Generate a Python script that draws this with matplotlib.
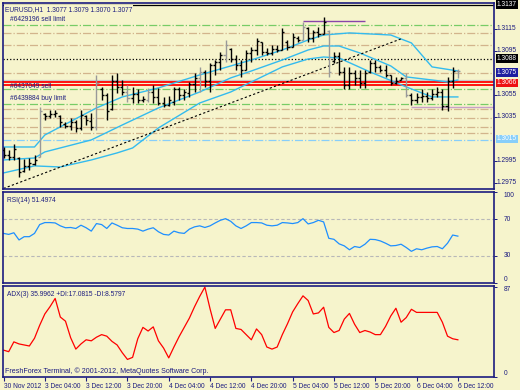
import numpy as np
import matplotlib.pyplot as plt
from matplotlib.transforms import blended_transform_factory

plt.rcParams['font.family'] = ['Liberation Sans', 'DejaVu Sans']

# EURUSD H1 bars, 30 Nov - 6 Dec 2012
o = [1.3005, 1.3000, 1.2999, 1.2998, 1.2986, 1.2990, 1.2992, 1.2999, 1.3038, 1.3036,
     1.3038, 1.3036, 1.3029, 1.3027, 1.3030, 1.3025, 1.3036, 1.3031, 1.3026, 1.3060,
     1.3055, 1.3042, 1.3068, 1.3062, 1.3058, 1.3052, 1.3056, 1.3050, 1.3050, 1.3058,
     1.3053, 1.3048, 1.3046, 1.3049, 1.3060, 1.3055, 1.3057, 1.3065, 1.3070, 1.3076,
     1.3068, 1.3082, 1.3085, 1.3091, 1.3097, 1.3088, 1.3082, 1.3078, 1.3093, 1.3096,
     1.3103, 1.3094, 1.3093, 1.3097, 1.3096, 1.3103, 1.3099, 1.3107, 1.3105, 1.3116,
     1.3107, 1.3112, 1.3110, 1.3113, 1.3086, 1.3090, 1.3076, 1.3064, 1.3075, 1.3070,
     1.3066, 1.3076, 1.3084, 1.3080, 1.3078, 1.3073, 1.3066, 1.3069, 1.3070, 1.3055,
     1.3050, 1.3053, 1.3054, 1.3052, 1.3056, 1.3058, 1.3045, 1.3068, 1.3077]
h = [1.3008, 1.3005, 1.3010, 1.2999, 1.2997, 1.2998, 1.3000, 1.3044, 1.3039, 1.3041,
     1.3041, 1.3037, 1.3030, 1.3034, 1.3032, 1.3041, 1.3037, 1.3039, 1.3073, 1.3062,
     1.3057, 1.3073, 1.3075, 1.3069, 1.3064, 1.3062, 1.3060, 1.3054, 1.3061, 1.3064,
     1.3061, 1.3053, 1.3054, 1.3062, 1.3062, 1.3060, 1.3067, 1.3075, 1.3080, 1.3078,
     1.3084, 1.3087, 1.3094, 1.3105, 1.3098, 1.3091, 1.3087, 1.3096, 1.3099, 1.3107,
     1.3103, 1.3098, 1.3100, 1.3100, 1.3116, 1.3105, 1.3111, 1.3109, 1.3121, 1.3117,
     1.3114, 1.3117, 1.3126, 1.3114, 1.3094, 1.3094, 1.3080, 1.3080, 1.3078, 1.3078,
     1.3078, 1.3087, 1.3087, 1.3082, 1.3082, 1.3073, 1.3071, 1.3071, 1.3075, 1.3057,
     1.3057, 1.3060, 1.3058, 1.3060, 1.3062, 1.3060, 1.3071, 1.3080, 1.3079]
l = [1.2998, 1.2996, 1.2996, 1.2980, 1.2985, 1.2987, 1.2991, 1.2999, 1.3032, 1.3034,
     1.3035, 1.3026, 1.3025, 1.3023, 1.3021, 1.3023, 1.3028, 1.3023, 1.3023, 1.3050,
     1.3032, 1.3041, 1.3057, 1.3055, 1.3049, 1.3048, 1.3048, 1.3049, 1.3049, 1.3048,
     1.3046, 1.3044, 1.3045, 1.3046, 1.3050, 1.3050, 1.3053, 1.3058, 1.3058, 1.3062,
     1.3058, 1.3073, 1.3078, 1.3085, 1.3085, 1.3078, 1.3071, 1.3078, 1.3085, 1.3091,
     1.3091, 1.3091, 1.3091, 1.3094, 1.3096, 1.3096, 1.3099, 1.3103, 1.3105, 1.3103,
     1.3103, 1.3108, 1.3110, 1.3071, 1.3084, 1.3073, 1.3060, 1.3060, 1.3064, 1.3061,
     1.3061, 1.3075, 1.3076, 1.3076, 1.3071, 1.3064, 1.3065, 1.3069, 1.3053, 1.3046,
     1.3048, 1.3049, 1.3049, 1.3050, 1.3053, 1.3041, 1.3040, 1.3061, 1.3070]
c = [1.3000, 1.2999, 1.3006, 1.2985, 1.2990, 1.2993, 1.2996, 1.3040, 1.3036, 1.3038,
     1.3039, 1.3030, 1.3027, 1.3030, 1.3025, 1.3037, 1.3032, 1.3026, 1.3066, 1.3055,
     1.3040, 1.3068, 1.3062, 1.3058, 1.3052, 1.3056, 1.3050, 1.3051, 1.3058, 1.3053,
     1.3048, 1.3046, 1.3050, 1.3060, 1.3055, 1.3058, 1.3065, 1.3070, 1.3076, 1.3068,
     1.3082, 1.3085, 1.3091, 1.3100, 1.3088, 1.3082, 1.3078, 1.3093, 1.3096, 1.3104,
     1.3094, 1.3093, 1.3097, 1.3096, 1.3112, 1.3099, 1.3108, 1.3105, 1.3117, 1.3107,
     1.3112, 1.3110, 1.3121, 1.3076, 1.3090, 1.3076, 1.3064, 1.3075, 1.3070, 1.3066,
     1.3075, 1.3084, 1.3080, 1.3078, 1.3073, 1.3066, 1.3068, 1.3070, 1.3055, 1.3050,
     1.3053, 1.3054, 1.3052, 1.3056, 1.3058, 1.3045, 1.3068, 1.3077, 1.3077]
gray_bars = [7, 18, 24, 28, 38, 43, 58, 63, 78, 88]

# band lines (read at a few bars)
up_x = [0, 6, 8, 18, 23, 30, 38, 48, 54, 59, 62, 67, 75, 79, 83, 88]
up_p = [1.30077, 1.30077, 1.30186, 1.30432, 1.30532, 1.30614, 1.30732, 1.30868, 1.30959, 1.3105,
        1.31095, 1.31114, 1.31095, 1.31023, 1.30805, 1.30768]
mid_x = [0, 6, 8, 17, 23, 30, 38, 44, 48, 54, 59, 62, 65, 69, 75, 78, 83, 86, 88]
mid_p = [1.29959, 1.29977, 1.30032, 1.30141, 1.30277, 1.30432, 1.30577, 1.30705, 1.30768, 1.30868,
         1.30959, 1.30995, 1.30995, 1.30932, 1.30814, 1.30714, 1.30686, 1.30668, 1.30686]
lo_x = [0, 6, 11, 17, 22, 25, 30, 38, 44, 48, 54, 59, 62, 65, 71, 78, 83, 88]
lo_p = [1.29841, 1.29905, 1.29895, 1.29959, 1.30023, 1.30068, 1.3025, 1.30477, 1.30577, 1.30668,
        1.30805, 1.30877, 1.30895, 1.30886, 1.30759, 1.30623, 1.30532, 1.30532]

trend_x = [0, 77]
trend_y = [1.2970, 1.3106]

levels = [1.3137, 1.3119, 1.3111, 1.3100, 1.3088, 1.3075, 1.3069, 1.30668, 1.30641,
          1.3060, 1.3047, 1.3042, 1.3034, 1.3026, 1.3020, 1.3014]
level_colors = ['black', '#77cc66', '#d2b48c', '#d2b48c', 'black', '#d2b48c', '#c8c8c8', 'red', 'red',
                '#77cc66', '#77cc66', '#d2b48c', '#d2b48c', '#d2b48c', '#d2b48c', '#87cefa']
level_styles = ['-', '-.', '-.', '-.', ':', '-.', '-', '-', '-',
                '-.', '-.', '-.', '-.', '-.', '-.', '-.']

rsi = [54.5, 53.4, 55.2, 47.3, 50.9, 50.9, 54.5, 64.2, 66.4, 66.4,
       66.0, 62.8, 60.7, 61.0, 59.9, 63.5, 60.7, 57.0, 65.3, 64.2,
       59.9, 66.0, 63.5, 60.7, 59.9, 59.9, 59.2, 57.0, 59.2, 60.7,
       56.3, 53.4, 52.7, 57.0, 55.2, 54.5, 59.2, 61.7, 62.8, 61.0,
       62.8, 66.0, 68.9, 70.7, 67.8, 62.8, 59.9, 62.8, 66.4, 66.4,
       66.0, 63.5, 62.8, 63.5, 66.4, 66.0, 65.3, 66.4, 70.7, 64.9,
       66.4, 68.9, 67.1, 49.1, 48.0, 43.0, 40.8, 36.5, 40.1, 39.0,
       42.6, 48.0, 47.7, 46.2, 43.7, 40.8, 41.2, 42.6, 39.0, 34.8,
       37.6, 36.5, 38.3, 39.7, 40.1, 37.6, 43.7, 52.7, 51.5]
adx = [26, 24.5, 34, 32, 31, 30, 37.5, 50, 61, 68,
       76, 58, 54, 38, 27, 32, 36, 35, 38.5, 41,
       39.5, 34.5, 31, 23.5, 17, 19, 37, 48, 44.5, 48.5,
       35, 28, 18.5, 29, 39, 48, 57, 68, 78, 87,
       66, 47, 56, 65, 65, 47, 46, 41, 36, 46.5,
       41, 29, 27, 29, 41, 51.5, 63, 71, 78.5, 74,
       61, 62, 67.5, 48, 43, 45, 56, 61.5, 51, 43,
       45, 43.5, 41, 41, 49, 59, 66.5, 53, 57.5, 65.5,
       62.5, 62.5, 62.5, 62.5, 62.5, 53, 39.5, 37, 36]

time_pos = [0, 8, 16, 24, 32, 40, 48, 56, 64, 72, 80, 88]
time_labels = ['30 Nov 2012', '3 Dec 04:00', '3 Dec 12:00', '3 Dec 20:00', '4 Dec 04:00', '4 Dec 12:00',
               '4 Dec 20:00', '5 Dec 04:00', '5 Dec 12:00', '5 Dec 20:00', '6 Dec 04:00', '6 Dec 12:00']

price_ticks = [1.3115, 1.3095, 1.3055, 1.3035, 1.2995, 1.2975]

bg = '#f6f4cc'
navy = '#1c1c80'
fs = 4.8

fig = plt.figure(figsize=(5.2, 3.9), dpi=100, facecolor=bg)
ax1 = fig.add_axes([0.0058, 0.5154, 0.9442, 0.4769], facecolor=bg)
ax2 = fig.add_axes([0.0058, 0.2744, 0.9442, 0.2333], facecolor=bg)
ax3 = fig.add_axes([0.0058, 0.0333, 0.9442, 0.2333], facecolor=bg)

for ax in (ax1, ax2, ax3):
    ax.set_xlim(-0.1, 95.0)
    for s in ax.spines.values():
        s.set_color(navy)
        s.set_linewidth(1.2)
    ax.set_xticks([])
    ax.yaxis.tick_right()
    ax.tick_params(axis='y', length=2, width=0.7, color=navy, labelright=False, labelleft=False)

# ---- main panel ----
ax1.set_ylim(1.29695, 1.31386)
ax1.set_yticks(price_ticks)
for p, col, ls in zip(levels, level_colors, level_styles):
    lw = 1.3 if col == 'red' else 0.9
    ax1.axhline(p, color=col, ls=ls, lw=lw, zorder=1)
ax1.hlines(1.3122, 58, 70, color='#8844aa', lw=1, zorder=1)
ax1.hlines(1.3044, 79, 95, color='#c8a0c8', lw=1, zorder=1)

x = np.arange(len(c))
cols = ['#999999' if i in gray_bars else 'black' for i in x]
ax1.vlines(x, l, h, colors=cols, lw=1.0, zorder=3)
ax1.hlines(o, x - 0.4, x, colors=cols, lw=1.0, zorder=3)
ax1.hlines(c, x, x + 0.4, colors=cols, lw=1.0, zorder=3)

for bx, bp in ((up_x, up_p), (mid_x, mid_p), (lo_x, lo_p)):
    ax1.plot(bx, bp, color='#33bbee', lw=1, zorder=2)
ax1.plot(trend_x, trend_y, color='black', ls=(0, (2, 2)), lw=0.8, zorder=2)

ax1.text(0.004, 0.985, 'EURUSD,H1  1.3077 1.3079 1.3070 1.3077', transform=ax1.transAxes,
         fontsize=fs, color=navy, va='top', ha='left', zorder=5,
         bbox=dict(facecolor=bg, edgecolor='none', pad=0.8))
ax1.text(1.2, 1.31205, '#6429196 sell limit', fontsize=fs, color=navy, va='bottom', zorder=5)
ax1.text(1.2, 1.30625, '#6437049 sell', fontsize=fs, color=navy, va='center', zorder=5)
ax1.text(1.2, 1.30485, '#6439884 buy limit', fontsize=fs, color=navy, va='bottom', zorder=5)

tr1 = blended_transform_factory(ax1.transAxes, ax1.transData)
for p in price_ticks:
    ax1.text(1.006, p, '%.4f' % p, transform=tr1, fontsize=fs, color=navy, va='center', ha='left')
boxes = [(1.3137, 'black', 'white'), (1.3088, 'black', 'white'), (1.30755, '#1c1ca0', 'white'),
         (1.3066, '#ee1111', 'white'), (1.3015, '#87cefa', 'white')]
for p, fc, tc in boxes:
    ax1.text(1.006, p, '%.4f' % round(p, 4), transform=tr1, fontsize=fs, color=tc, va='center',
             ha='left', bbox=dict(facecolor=fc, edgecolor='none', pad=0.6))

# ---- RSI ----
ax2.set_ylim(0, 100)
ax2.set_yticks([100, 70, 30, 0])
ax2.axhline(70, color='#b8b8b8', ls=(0, (3, 2)), lw=0.8)
ax2.axhline(30, color='#b8b8b8', ls=(0, (3, 2)), lw=0.8)
ax2.plot(x, rsi, color='#1e8fff', lw=0.9)
ax2.text(0.008, 0.95, 'RSI(14) 51.4974', transform=ax2.transAxes, fontsize=fs, color=navy, va='top')
tr2 = blended_transform_factory(ax2.transAxes, ax2.transData)
for v, lab, va in [(100, '100', 'top'), (70, '70', 'center'), (30, '30', 'center'), (0, '0', 'bottom')]:
    ax2.text(1.02, v, lab, transform=tr2, fontsize=fs, color=navy, va=va, ha='left')

# ---- ADX ----
ax3.set_ylim(0, 88)
ax3.set_yticks([87, 0])
ax3.plot(x, adx, color='red', lw=0.9)
ax3.text(0.008, 0.95, 'ADX(3) 35.9962 +DI:17.0815 -DI:8.5797', transform=ax3.transAxes,
         fontsize=fs, color=navy, va='top')
ax3.text(0.004, 0.02, 'FreshForex Terminal, \u00a9 2001-2012, MetaQuotes Software Corp.',
         transform=ax3.transAxes, fontsize=5.1, color=navy, va='bottom')
tr3 = blended_transform_factory(ax3.transAxes, ax3.transData)
ax3.text(1.02, 88, '87', transform=tr3, fontsize=fs, color=navy, va='top', ha='left')
ax3.text(1.02, 0, '0', transform=tr3, fontsize=fs, color=navy, va='bottom', ha='left')

ax3.set_xticks(time_pos)
ax3.set_xticklabels(time_labels, fontsize=fs, color=navy, ha='left')
ax3.tick_params(axis='x', length=3, width=0.8, color=navy, pad=1.5)

fig.savefig('out.png', dpi=100, facecolor=bg)
